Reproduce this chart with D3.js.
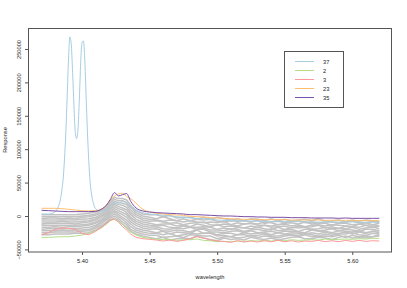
<!DOCTYPE html>
<html><head><meta charset="utf-8">
<script src="https://cdn.jsdelivr.net/npm/d3@7"></script>
<style>html,body{margin:0;padding:0;background:#fff;}svg{display:block;}</style>
</head><body>
<svg id="chart" width="407" height="288"></svg>
<script>
// values in thousands of response units
const unit = 1000;
const wavelength = [5.370,5.375,5.380,5.385,5.390,5.395,5.400,5.405,5.410,5.415,5.418,5.421,5.424,5.427,5.430,5.433,5.436,5.440,5.445,5.450,
  5.455,5.460,5.465,5.470,5.475,5.480,5.485,5.490,5.495,5.500,5.505,5.510,5.515,5.520,5.525,5.530,5.535,5.540,5.545,5.550,
  5.555,5.560,5.565,5.570,5.575,5.580,5.585,5.590,5.595,5.600,5.605,5.610,5.615,5.620];

const wavelength37 = [5.370,5.375,5.378,5.380,5.382,5.384,5.385,5.386,5.387,5.388,5.389,5.390,5.391,5.392,5.393,5.394,5.395,5.396,5.397,5.398,
  5.399,5.400,5.401,5.402,5.403,5.404,5.405,5.406,5.407,5.408,5.409,5.410,5.412,5.415,5.418,5.421,5.424,5.427,5.430,5.433,
  5.436,5.440,5.445,5.450,
  5.455,5.460,5.465,5.470,5.475,5.480,5.485,5.490,5.495,5.500,5.505,5.510,5.515,5.520,5.525,5.530,5.535,5.540,5.545,5.550,
  5.555,5.560,5.565,5.570,5.575,5.580,5.585,5.590,5.595,5.600,5.605,5.610,5.615,5.620];
const series37 = [3,3,4,6,12,25,38,55,85,125,180,235,268,258,215,165,125,116,130,175,
  230,260,262,235,180,125,82,50,33,22,15,11,8,7,9,14,20,19,22,19,
  14,9,5,3,
  2,1,0,-1,-2,-3,-3.5,-4,-5,-6,-6.5,-7,-7,-7.5,-7.5,-8,-8,-8,-8,-8.5,
  -8.5,-8.5,-8.5,-9,-9,-9,-9,-9,-9,-9,-9.5,-9.5,-9.5,-9.5];

const series2 = [-32,-32,-31.5,-31,-31,-30,-28.5,-26,-22,-17,-12,-7,-4,-8,-13,-18.5,-24,-28.5,-32,-33.5,
  -34.5,-35.5,-35,-36.5,-35.5,-35.5,-34.5,-36.5,-37,-38.5,-38,-38.5,-37.5,-38,-37,-37.5,-36.5,-37.5,-36.5,-37,
  -35.5,-36.5,-36,-35.5,-36,-34.5,-35.5,-35,-34.5,-35,-34,-34.5,-33.5,-33.5];
const series3 = [-28,-25,-20,-18,-18.5,-20,-26,-28,-23,-16,-11,-6,-5,-9,-16,-21,-27,-32,-34,-35,
  -36,-37.5,-36,-38,-36.5,-34,-31,-33,-36,-37.5,-38,-39.5,-37,-39,-37.5,-39,-37,-38.5,-36.5,-38.5,
  -37,-39,-37.5,-38,-36.5,-38.5,-37,-38.5,-36.5,-38,-36.5,-38,-37,-37.5];
const series23 = [11.5,11.5,11.5,11,10,9,8,7.5,8,11,16,24,30,33,34,29,26,19,10,6,
  4,3,2,1.5,1,-0.5,-1,-1.5,-2.5,-3,-3.5,-4,-4.5,-5,-5,-5,-5.5,-5.5,-5.5,-5.5,
  -6,-6,-6,-6,-6,-6.5,-6.5,-6.5,-6.5,-6.5,-7,-7,-7,-7];
const series35 = [8.5,8,7.5,7,6.5,6.5,6.5,6.5,7,11,16,25,35,30,32,33.5,22,12,7.5,6,
  5,4.5,4,3.5,3,2,2,1.5,1,0.5,0,0,-0.5,-1,-1,-1.5,-1.5,-2,-2,-2,
  -2.5,-2.5,-2.5,-3,-3,-3,-3,-3.5,-3,-3.5,-3.5,-3.5,-3.5,-3.5];

const gray1 = [2,2,2,2,2,2,3,4,6,10,15,23,28,26,26,24,16,8,3,2, 2,-1,1,-3,-2,-2,-5,-2,-5,-2,-4,-6,-4,-7,-4,-5,-7,-4,-7,-5,-8,-6,-5,-7,-4,-8,-7,-6,-9,-6,-8,-6,-7,-8];
const gray2 = [-1,-1,-1,-1,-1,-1,0,1,3,8,12,20,25,23,23,20,13,5,0,-2, -4,-1,-4,-7,-4,-7,-5,-6,-5,-8,-9,-7,-8,-7,-9,-6,-11,-9,-8,-10,-8,-7,-10,-9,-11,-9,-9,-11,-9,-7,-10,-10,-8,-9];
const gray3 = [-4,-3,-3,-4,-3,-4,-2,-1,1,5,10,17,22,20,19,17,9,2,-3,-5, -6,-8,-6,-7,-9,-7,-9,-10,-9,-10,-8,-13,-10,-12,-11,-12,-9,-10,-13,-11,-10,-12,-9,-12,-11,-11,-14,-11,-11,-13,-12,-10,-13,-11];
const gray4 = [-6,-6,-6,-6,-6,-6,-5,-4,-2,3,8,15,19,17,16,13,5,-1,-6,-8, -7,-9,-11,-10,-13,-11,-10,-9,-13,-14,-12,-13,-15,-12,-11,-14,-14,-15,-13,-12,-15,-13,-16,-14,-13,-15,-13,-14,-15,-16,-12,-14,-13,-15];
const gray5 = [-9,-9,-9,-8,-9,-9,-8,-7,-4,1,5,12,17,14,12,9,2,-5,-9,-11, -13,-12,-12,-15,-13,-16,-12,-14,-16,-13,-16,-15,-16,-18,-15,-17,-14,-17,-16,-15,-18,-15,-17,-16,-14,-18,-16,-19,-15,-16,-17,-14,-17,-15];
const gray6 = [-12,-11,-11,-11,-11,-12,-10,-9,-6,-1,3,10,14,11,9,5,-2,-8,-12,-14, -15,-14,-17,-18,-15,-17,-17,-16,-17,-20,-18,-20,-17,-18,-19,-17,-19,-21,-17,-20,-17,-18,-17,-20,-19,-17,-19,-18,-19,-17,-20,-18,-16,-19];
const gray7 = [-14,-14,-14,-14,-14,-14,-13,-12,-9,-4,1,7,11,8,5,2,-5,-11,-15,-17, -16,-19,-20,-18,-19,-17,-20,-18,-21,-21,-22,-19,-20,-23,-21,-20,-22,-19,-22,-21,-20,-23,-20,-20,-22,-21,-19,-22,-20,-21,-23,-20,-20,-22];
const gray8 = [-17,-17,-16,-17,-16,-16,-15,-14,-11,-6,-2,5,8,5,2,-2,-9,-14,-18,-20, -19,-22,-23,-21,-22,-24,-20,-20,-24,-24,-25,-23,-22,-25,-22,-25,-24,-23,-25,-23,-23,-24,-25,-21,-23,-23,-25,-22,-23,-24,-22,-25,-23,-22];
const gray9 = [-20,-19,-19,-19,-19,-19,-18,-17,-14,-8,-4,2,6,2,-2,-6,-12,-18,-21,-23, -25,-23,-27,-24,-25,-26,-21,-26,-25,-28,-26,-26,-28,-25,-27,-26,-25,-28,-25,-27,-25,-26,-27,-25,-27,-24,-27,-26,-24,-27,-24,-26,-23,-25];
const gray10 = [-22,-22,-22,-21,-22,-21,-21,-20,-16,-10,-6,-1,3,-1,-5,-10,-16,-21,-24,-26, -26,-28,-26,-30,-28,-26,-27,-26,-26,-30,-29,-31,-28,-28,-30,-29,-27,-30,-30,-28,-28,-29,-26,-28,-30,-27,-29,-27,-27,-25,-28,-29,-26,-27];
const gray11 = [-25,-25,-24,-24,-24,-24,-23,-22,-18,-13,-9,-3,0,-4,-9,-13,-20,-24,-27,-29, -29,-32,-31,-30,-32,-28,-29,-30,-30,-34,-31,-31,-33,-32,-29,-32,-30,-31,-33,-30,-29,-31,-28,-31,-31,-30,-31,-29,-32,-29,-31,-30,-31,-28];
const gray12 = [-28,-28,-27,-27,-27,-26,-26,-25,-21,-15,-11,-6,-3,-7,-12,-17,-23,-27,-30,-32, -34,-32,-36,-34,-33,-34,-30,-33,-35,-37,-33,-35,-34,-36,-32,-34,-35,-33,-36,-34,-32,-31,-34,-34,-32,-33,-35,-32,-30,-33,-32,-33,-31,-30];

const xTicks = [5.40, 5.45, 5.50, 5.55, 5.60];
const yTicks = [-50000, 0, 50000, 100000, 150000, 200000, 250000];
const legendLabels = ["37", "2", "3", "23", "35"];
const legendColors = ["#A6CEE3", "#B2DF8A", "#FB9A99", "#FDBF6F", "#7A4FA6"];

const graySeries = [gray1,gray2,gray3,gray4,gray5,gray6,gray7,gray8,gray9,gray10,gray11,gray12];

(function draw() {
const svg = d3.select("#chart");
const mLeft = 28, mRight = 392, mTop = 28, mBottom = 252;
const x = d3.scaleLinear().domain([5.3600, 5.6294]).range([mLeft, mRight]);
const y = d3.scaleLinear().domain([-53900, 281400]).range([mBottom, mTop]);
const font = "'Liberation Sans', Arial, Helvetica, sans-serif";
const fs = 5.7;

function pts(xs, vs) { return xs.map((w, i) => [w, vs[i] * unit]); }
const linear = d3.line().x(d => x(d[0])).y(d => y(d[1]));
const smooth = d3.line().x(d => x(d[0])).y(d => y(d[1])).curve(d3.curveMonotoneX);

const plot = svg.append("g");
plot.selectAll("path.gray").data(graySeries).join("path")
  .attr("class", "gray")
  .attr("d", s => linear(pts(wavelength, s)))
  .attr("fill", "none").attr("stroke", "#C2C2C2").attr("stroke-width", 1.5);

const highlighted = [
  {xs: wavelength37, vs: series37, color: legendColors[0], gen: smooth},
  {xs: wavelength, vs: series2, color: legendColors[1], gen: linear},
  {xs: wavelength, vs: series3, color: legendColors[2], gen: linear},
  {xs: wavelength, vs: series23, color: legendColors[3], gen: smooth},
  {xs: wavelength, vs: series35, color: legendColors[4], gen: smooth}
];
plot.selectAll("path.hl").data(highlighted).join("path")
  .attr("class", "hl")
  .attr("d", s => s.gen(pts(s.xs, s.vs)))
  .attr("fill", "none").attr("stroke", s => s.color).attr("stroke-width", 1);

svg.append("rect").attr("x", mLeft + 0.5).attr("y", mTop + 0.5)
  .attr("width", mRight - mLeft - 1).attr("height", mBottom - mTop - 0.5)
  .attr("fill", "none").attr("stroke", "#555").attr("stroke-width", 1);

const xAxis = d3.axisBottom(x).tickValues(xTicks).tickSize(3).tickFormat(d3.format(".2f"));
const gx = svg.append("g").attr("transform", `translate(0,${mBottom})`).call(xAxis);
gx.select(".domain").remove();
gx.selectAll(".tick line").attr("stroke", "#555");
gx.selectAll(".tick text").attr("y", 10.5).attr("dy", 0)
  .attr("font-family", font).attr("font-size", fs).attr("fill", "#222");

const yAxis = d3.axisLeft(y).tickValues(yTicks).tickSize(3).tickFormat(d3.format("d"));
const gy = svg.append("g").attr("transform", `translate(${mLeft},0)`).call(yAxis);
gy.select(".domain").remove();
gy.selectAll(".tick line").attr("stroke", "#555");
gy.selectAll(".tick text")
  .attr("x", 0).attr("dy", 0)
  .attr("transform", "translate(-7.5,0) rotate(-90)")
  .attr("text-anchor", "middle")
  .attr("font-family", font).attr("font-size", fs).attr("fill", "#222");

svg.append("text").attr("x", (mLeft + mRight) / 2).attr("y", 278.5)
  .attr("text-anchor", "middle").attr("font-family", font).attr("font-size", fs).attr("fill", "#222")
  .text("wavelength");
svg.append("text").attr("transform", `translate(7,${(mTop + mBottom) / 2}) rotate(-90)`)
  .attr("text-anchor", "middle").attr("font-family", font).attr("font-size", fs).attr("fill", "#222")
  .text("Response");

const lg = svg.append("g");
lg.append("rect").attr("x", 284.5).attr("y", 51.5).attr("width", 59).attr("height", 56)
  .attr("fill", "#fff").attr("stroke", "#555").attr("stroke-width", 1);
const rows = lg.selectAll("g.row").data(legendLabels).join("g").attr("class", "row")
  .attr("transform", (d, i) => `translate(0,${61.5 + i * 9})`);
rows.append("line").attr("x1", 295).attr("x2", 314).attr("y1", 0).attr("y2", 0)
  .attr("stroke", (d, i) => legendColors[i]).attr("stroke-width", 1);
rows.append("text").attr("x", 323).attr("y", 2).attr("font-family", font).attr("font-size", fs)
  .attr("fill", "#222").text(d => d);
})();
</script>
</body></html>
